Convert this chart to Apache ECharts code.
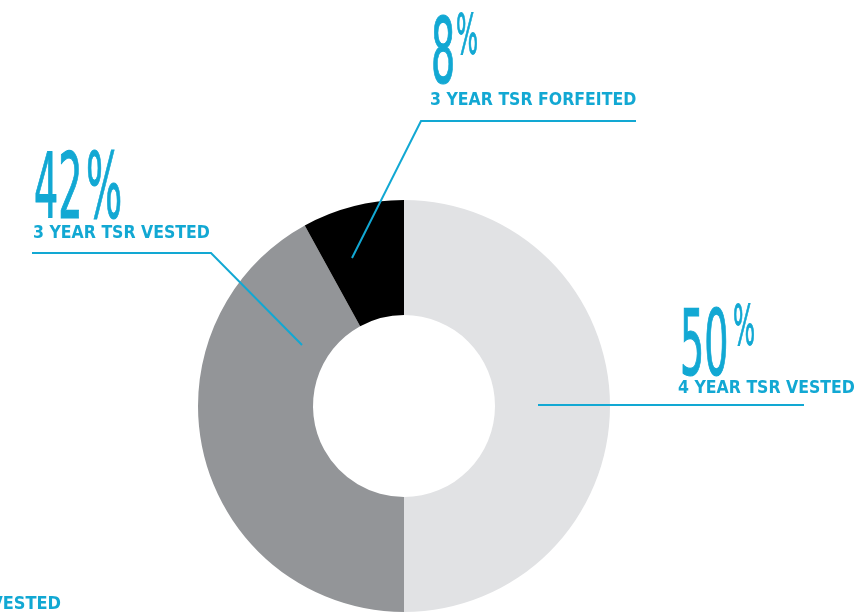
<!DOCTYPE html>
<html><head><meta charset="utf-8">
<script src="https://cdn.jsdelivr.net/npm/echarts@6/dist/echarts.min.js"></script>
<style>html,body{margin:0;padding:0;background:#fff}#c{width:856px;height:616px}</style>
</head><body><div id="c"></div>
<script>
const categories = ['4 YEAR TSR VESTED', '3 YEAR TSR VESTED', '3 YEAR TSR FORFEITED'];
const values = [50, 42, 8];
const sliceColors = ['#e1e2e4', '#939598', '#000000'];
const offscreenLabel = '3 YEAR TSR VESTED';

const CYAN = '#12a8d3';
const CAP_FONT = 'DejaVu Sans Condensed';
const NUM_FONT = 'DejaVu Sans Condensed';
const SX = 0.47;

// layout of each slice's label (pixels)
const layout = [
  { capX: 678, capY: 388, pts: [[538, 405], [804, 405]], numX: 680, numY: 307 },
  { capX: 33, capY: 233, pts: [[302, 345], [211, 253], [32, 253]], numX: 34, numY: 150 },
  { capX: 430, capY: 100, pts: [[352, 258], [421, 121], [636, 121]], numX: 431, numY: 15 }
];
const pctPos = [
  { x: 733, y: 302, size: 55 },
  { x: 86, y: 150, size: 90 },
  { x: 456, y: 11, size: 55 }
];

const chart = echarts.init(document.getElementById('c'));

const graphics = [];
values.forEach((v, i) => {
  const L = layout[i];
  graphics.push({
    type: 'text', x: L.numX, y: L.numY, scaleX: SX, silent: true, z: 100,
    style: { text: String(v), fill: CYAN, stroke: CYAN, lineWidth: 1.2, font: '90px "' + NUM_FONT + '"', textAlign: 'left', textVerticalAlign: 'top' }
  });
  const p = pctPos[i];
  graphics.push({
    type: 'text', x: p.x, y: p.y, scaleX: SX, silent: true, z: 100,
    style: { text: '%', fill: CYAN, stroke: CYAN, lineWidth: 1, font: p.size + 'px "' + NUM_FONT + '"', textAlign: 'left', textVerticalAlign: 'top' }
  });
  graphics.push({
    type: 'polyline', silent: true, z: 100,
    shape: { points: L.pts },
    style: { stroke: CYAN, lineWidth: 2, fill: null }
  });
});
graphics.push({
  type: 'text', x: 61, y: 604, silent: true, z: 100,
  style: { text: offscreenLabel, fill: CYAN, font: 'bold 18px "' + CAP_FONT + '"', textAlign: 'right', textVerticalAlign: 'middle' }
});

chart.setOption({
  animation: false,
  backgroundColor: '#ffffff',
  graphic: graphics,
  series: [{
    type: 'pie',
    center: [404, 406],
    radius: [91, 206],
    startAngle: 90,
    clockwise: true,
    silent: true,
    emphasis: { disabled: true },
    data: values.map((v, i) => ({ value: v, name: categories[i], itemStyle: { color: sliceColors[i] } })),
    label: {
      show: true,
      position: 'outside',
      formatter: '{b}',
      color: CYAN,
      fontFamily: CAP_FONT,
      fontWeight: 'bold',
      fontSize: 17.5,
      overflow: 'none'
    },
    labelLine: { show: false },
    labelLayout: function (p) {
      const L = layout[p.dataIndex];
      return { x: L.capX, y: L.capY, align: 'left', verticalAlign: 'middle', moveOverlap: false, hideOverlap: false };
    }
  }]
});
</script></body></html>
